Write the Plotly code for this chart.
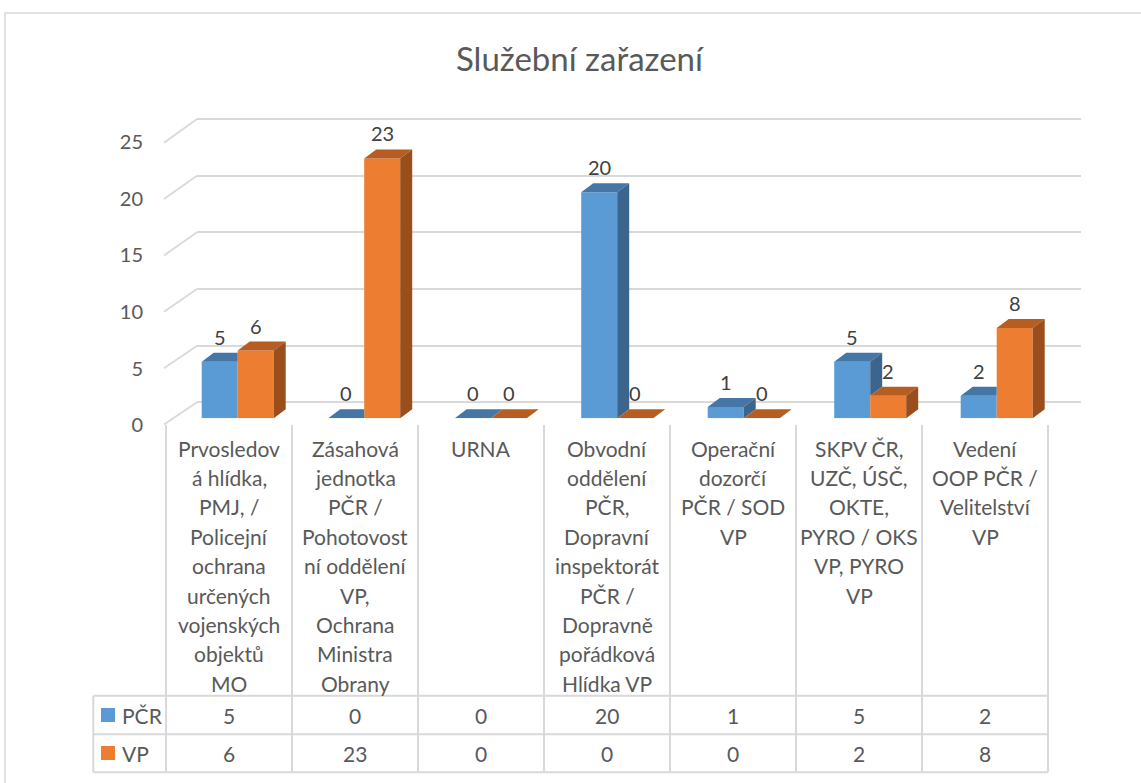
import plotly.graph_objects as go

# ---------------- data ----------------
title = "Služební zařazení"
categories = [
    "Prvosledov\ná hlídka,\nPMJ, /\nPolicejní\nochrana\nurčených\nvojenských\nobjektů\nMO",
    "Zásahová\njednotka\nPČR /\nPohotovost\nní oddělení\nVP,\nOchrana\nMinistra\nObrany",
    "URNA",
    "Obvodní\noddělení\nPČR,\nDopravní\ninspektorát\nPČR /\nDopravně\npořádková\nHlídka VP",
    "Operační\ndozorčí\nPČR / SOD\nVP",
    "SKPV ČR,\nUZČ, ÚSČ,\nOKTE,\nPYRO / OKS\nVP, PYRO\nVP",
    "Vedení\nOOP PČR /\nVelitelství\nVP",
]
series_names = ["PČR", "VP"]
pcr = [5, 0, 0, 20, 1, 5, 2]
vp = [6, 23, 0, 0, 0, 2, 8]
y_ticks = [0, 5, 10, 15, 20, 25]

# ---------------- style / geometry ----------------
W, H = 1141, 783
BLUE, BLUE_TOP, BLUE_SIDE = "#5B9BD5", "#4676A6", "#3B658C"
ORANGE, ORANGE_TOP, ORANGE_SIDE = "#ED7D31", "#B65E22", "#9A4E1C"
GRID = "#D9D9D9"
TXT = "#595959"
LBL = "#404040"
FONT = "Lato"


def fx(p):
    return p / W


def fy(p):
    return 1 - p / H


WALL_L, WALL_R = 197, 1081
WALL_Y0, WALL_PPU = 402.3, 11.33
FRONT_L = 164
FRONT_Y0, FRONT_PPU = 424.5, 11.27
BAR_Y0, BAR_PPU = 418.3, 11.3
J0, STEP = 237.7, 126.5
BW = 36 / STEP
DX = 12 / STEP
DY = 9 / BAR_PPU
TBL_L, TBL_C0, TBL_CW = 93.3, 166, 126
TBL_TOP = 425
ROW_LINES = [695.7, 734.3, 772.3]
HDR_Y0, HDR_DY = 448, 29.4
ROW_Y = [715, 753]

idx = list(range(len(categories)))
fig = go.Figure()

# invisible trace so the back-wall axes (x/y) are drawn
fig.add_trace(go.Scatter(x=[0.5], y=[0], xaxis="x", yaxis="y", mode="markers",
                         marker=dict(opacity=0), hoverinfo="skip", showlegend=False))

# front faces (bars)
fig.add_trace(go.Bar(x=idx, y=pcr, xaxis="x2", yaxis="y2", width=BW, offset=-BW,
                     marker=dict(color=BLUE, line=dict(width=0)), name=series_names[0],
                     hoverinfo="skip", showlegend=False))
fig.add_trace(go.Bar(x=idx, y=vp, xaxis="x2", yaxis="y2", width=BW, offset=0,
                     marker=dict(color=ORANGE, line=dict(width=0)), name=series_names[1],
                     hoverinfo="skip", showlegend=False))


def poly_trace(xs, ys, color):
    return go.Scatter(x=xs, y=ys, xaxis="x2", yaxis="y2", mode="lines", fill="toself",
                      fillcolor=color, line=dict(width=0, color=color), hoverinfo="skip",
                      showlegend=False, cliponaxis=False)


# blue tops and sides
bt_x, bt_y, bs_x, bs_y = [], [], [], []
for i, (vb, vo) in enumerate(zip(pcr, vp)):
    x0 = i - BW
    x1 = i
    if vo > vb:
        bt_x += [x0, x1, x1, x0 + DX, x0, None]
        bt_y += [vb, vb, vb + DY, vb + DY, vb, None]
    else:
        bt_x += [x0, x1, x1 + DX, x0 + DX, x0, None]
        bt_y += [vb, vb, vb + DY, vb + DY, vb, None]
    if vb > vo:
        lo = max(vo, 0)
        bs_x += [x1, x1, x1 + DX, x1 + DX, x1, None]
        bs_y += [lo, vb, vb + DY, lo + DY, lo, None]
fig.add_trace(poly_trace(bt_x, bt_y, BLUE_TOP))
fig.add_trace(poly_trace(bs_x, bs_y, BLUE_SIDE))

# orange tops and sides
ot_x, ot_y, os_x, os_y = [], [], [], []
for i, vo in enumerate(vp):
    x0 = i
    x1 = i + BW
    ot_x += [x0, x1, x1 + DX, x0 + DX, x0, None]
    ot_y += [vo, vo, vo + DY, vo + DY, vo, None]
    if vo > 0:
        os_x += [x1, x1, x1 + DX, x1 + DX, x1, None]
        os_y += [0, vo, vo + DY, DY, 0, None]
fig.add_trace(poly_trace(ot_x, ot_y, ORANGE_TOP))
fig.add_trace(poly_trace(os_x, os_y, ORANGE_SIDE))

annotations = []
shapes = []

# data labels
for i, (vb, vo) in enumerate(zip(pcr, vp)):
    for v, xc in ((vb, i - BW / 2), (vo, i + BW / 2)):
        annotations.append(dict(x=xc, y=v, xref="x2", yref="y2", text=str(v), showarrow=False,
                                yshift=25, yanchor="middle",
                                font=dict(family=FONT, size=20, color=LBL)))

# side-wall diagonals
for v in y_ticks:
    shapes.append(dict(type="line", xref="paper", yref="paper",
                       x0=fx(FRONT_L), y0=fy(FRONT_Y0 - FRONT_PPU * v),
                       x1=fx(WALL_L), y1=fy(WALL_Y0 - WALL_PPU * v),
                       line=dict(color=GRID, width=1.8), layer="below"))

# data table grid
tbl_r = TBL_C0 + len(categories) * TBL_CW
for k in range(len(categories) + 1):
    xp = TBL_C0 + k * TBL_CW
    shapes.append(dict(type="line", xref="paper", yref="paper", x0=fx(xp), x1=fx(xp),
                       y0=fy(TBL_TOP), y1=fy(ROW_LINES[-1]), line=dict(color=GRID, width=2)))
shapes.append(dict(type="line", xref="paper", yref="paper", x0=fx(TBL_L), x1=fx(TBL_L),
                   y0=fy(ROW_LINES[0]), y1=fy(ROW_LINES[-1]), line=dict(color=GRID, width=2)))
for yp in ROW_LINES:
    shapes.append(dict(type="line", xref="paper", yref="paper", x0=fx(TBL_L), x1=fx(tbl_r),
                       y0=fy(yp), y1=fy(yp), line=dict(color=GRID, width=2)))

# header labels
for i, cat in enumerate(categories):
    xc = TBL_C0 + (i + 0.5) * TBL_CW
    for k, line in enumerate(cat.split("\n")):
        annotations.append(dict(x=fx(xc), y=fy(HDR_Y0 + k * HDR_DY), xref="paper", yref="paper",
                                text=line, showarrow=False, xanchor="center", yanchor="middle",
                                font=dict(family=FONT, size=21, color=TXT)))

# value rows + legend keys
for r, (name, vals, col) in enumerate(((series_names[0], pcr, BLUE), (series_names[1], vp, ORANGE))):
    yc = ROW_Y[r]
    for i, v in enumerate(vals):
        xc = TBL_C0 + (i + 0.5) * TBL_CW
        annotations.append(dict(x=fx(xc), y=fy(yc), xref="paper", yref="paper", text=str(v),
                                showarrow=False, xanchor="center", yanchor="middle",
                                font=dict(family=FONT, size=21, color=TXT)))
    shapes.append(dict(type="rect", xref="paper", yref="paper", x0=fx(101), x1=fx(115),
                       y0=fy(yc - 7), y1=fy(yc + 7), fillcolor=col, line=dict(width=0)))
    annotations.append(dict(x=fx(120), y=fy(yc), xref="paper", yref="paper", text=name,
                            showarrow=False, xanchor="left", yanchor="middle",
                            font=dict(family=FONT, size=21, color=TXT)))

# title
annotations.append(dict(x=fx(580), y=fy(58), xref="paper", yref="paper", text=title,
                        showarrow=False, xanchor="center", yanchor="middle",
                        font=dict(family=FONT, size=33, color=TXT)))

# chart border
shapes.append(dict(type="rect", xref="paper", yref="paper", x0=fx(5), y0=fy(13),
                   x1=fx(1250), y1=fy(900), line=dict(color=GRID, width=1.5), layer="below"))

wall_top = 110
fig.update_layout(
    width=W, height=H, margin=dict(l=0, r=0, t=0, b=0, autoexpand=False),
    paper_bgcolor="white", plot_bgcolor="rgba(0,0,0,0)",
    barmode="overlay", showlegend=False,
    xaxis=dict(domain=[fx(WALL_L), fx(WALL_R)], range=[0, 1], visible=True, automargin=False,
               showgrid=False, zeroline=False, showticklabels=False, showline=False, ticks=""),
    yaxis=dict(domain=[fy(WALL_Y0), fy(wall_top)], range=[0, (WALL_Y0 - wall_top) / WALL_PPU],
               tickvals=y_ticks, showgrid=True, gridcolor=GRID, gridwidth=1.8, automargin=False,
               zeroline=True, zerolinecolor=GRID, zerolinewidth=1.8, showline=False, ticks="",
               ticklabelshift=23, ticklabelstandoff=53,
               tickfont=dict(family=FONT, size=20, color=TXT)),
    xaxis2=dict(domain=[fx(J0 - 0.5 * STEP), fx(J0 + 6.5 * STEP)], range=[-0.5, 6.5],
                anchor="y2", visible=False, automargin=False),
    yaxis2=dict(domain=[fy(BAR_Y0), fy(BAR_Y0 - 300)], range=[0, 300 / BAR_PPU],
                anchor="x2", visible=False, automargin=False),
    annotations=annotations, shapes=shapes,
)

fig.write_html("out.html", config={"displayModeBar": False},
               post_script="document.body.style.margin='0';document.body.style.overflow='hidden';")
